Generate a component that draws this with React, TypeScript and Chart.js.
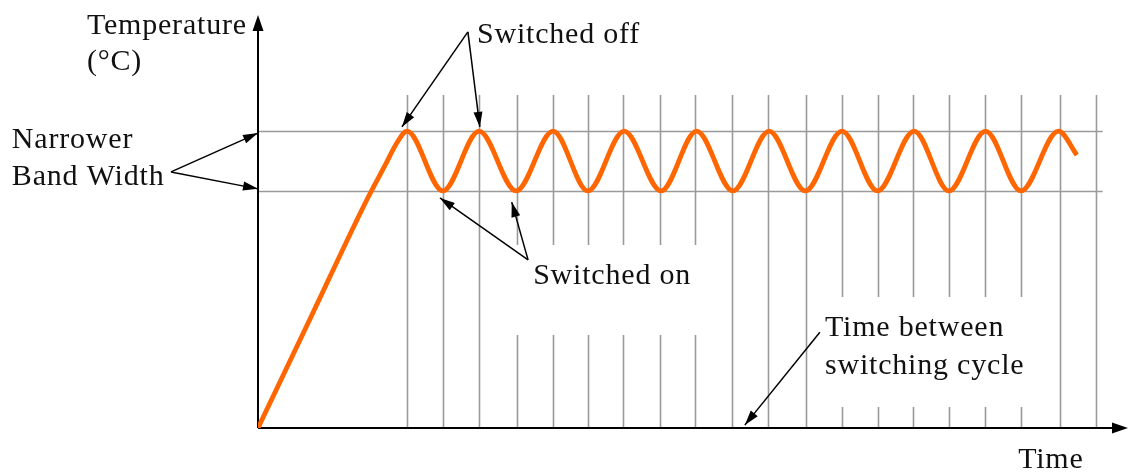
import React, { useEffect, useRef } from "react";
import { Chart, registerables } from "chart.js";

Chart.register(...registerables);

// Temperature curve (time in switching-grid units, temperature in arbitrary 0-100 units)
const curveTime = [
  0, 1.5, 3.0, 3.5, 3.85, 4.11, 5.1, 6.1, 7.12, 8.14, 9.1, 10.1, 11.12, 12.1, 13.1,
  14.1, 15.1, 16.11, 17.09, 18.1, 19.06, 20.07, 21.05, 22.08, 22.59,
];
const curveTemp = [
  0, 27.6, 55.2, 63.5, 69.3, 71.9, 57.4, 71.9, 57.4, 71.9, 57.4, 71.9, 57.4, 71.9, 57.4,
  71.9, 57.4, 71.9, 57.4, 71.9, 57.4, 71.9, 57.4, 71.9, 66.1,
];

// Band limits
const bandUpper = 71.9;
const bandLower = 57.4;
const bandEnd = 23.3;

// Switching-cycle marker lines
const cycleTimes = [
  4.11, 5.1, 6.1, 7.14, 8.14, 9.1, 10.07, 11.09, 12.06, 13.08, 14.07, 15.12, 16.11, 17.1,
  18.07, 19.06, 20.06, 21.05, 22.12, 23.12,
];
const cycleTop = 80.6;
// gap (from, to) per line, null = full line
const cycleGaps: ([number, number] | null)[] = [
  null, null, null, [22.5, 44.3], [22.5, 44.3], [22.5, 44.3], [22.5, 44.3], [22.5, 44.3],
  [22.5, 44.3], null, null, null, [5.1, 31.7], [5.1, 31.7], [5.1, 31.7], [5.1, 31.7],
  [5.1, 31.7], [5.1, 31.7], null, null,
];

// Text labels
const labelTexts = [
  "Temperature", "(°C)", "Switched off", "Narrower", "Band Width", "Switched on",
  "Time between", "switching cycle", "Time",
];
const labelTimes = [-4.72, -4.72, 6.04, -6.79, -6.79, 7.59, 15.64, 15.64, 20.97];
const labelTemps = [95.4, 86.7, 93.2, 67.8, 58.8, 34.9, 22.3, 13.1, -9.7];

// Annotation arrows: from -> to
const arrowFromT = [5.79, 5.79, -2.4, -2.4, 7.45, 7.45, 15.5];
const arrowFromV = [95.9, 95.9, 62.0, 62.0, 40.7, 40.7, 23.2];
const arrowToT = [3.97, 6.12, 0, 0, 5.02, 7.0, 13.43];
const arrowToV = [72.9, 72.9, 71.4, 57.9, 55.7, 54.7, 0.7];

const X_MAX = 24;
const Y_MAX = 100;

function arrowHead(ctx: CanvasRenderingContext2D, x1: number, y1: number, x2: number, y2: number, len: number, half: number) {
  const a = Math.atan2(y2 - y1, x2 - x1);
  const bx = x2 - len * Math.cos(a);
  const by = y2 - len * Math.sin(a);
  ctx.beginPath();
  ctx.moveTo(x2, y2);
  ctx.lineTo(bx + half * Math.sin(a), by - half * Math.cos(a));
  ctx.lineTo(bx - half * Math.sin(a), by + half * Math.cos(a));
  ctx.closePath();
  ctx.fill();
}

const decorPlugin = {
  id: "decor",
  beforeDatasetsDraw(chart: any) {
    const { ctx, scales } = chart;
    const xs = scales.x;
    const ys = scales.y;
    ctx.save();
    ctx.strokeStyle = "#9a9a9a";
    ctx.lineWidth = 1.6;
    [bandUpper, bandLower].forEach((v) => {
      const py = Math.round(ys.getPixelForValue(v)) + 0.5;
      ctx.beginPath();
      ctx.moveTo(xs.getPixelForValue(0), py);
      ctx.lineTo(xs.getPixelForValue(bandEnd), py);
      ctx.stroke();
    });
    cycleTimes.forEach((t, i) => {
      const px = Math.round(xs.getPixelForValue(t)) + 0.5;
      const gap = cycleGaps[i];
      ctx.beginPath();
      if (gap) {
        ctx.moveTo(px, ys.getPixelForValue(0));
        ctx.lineTo(px, ys.getPixelForValue(gap[0]));
        ctx.moveTo(px, ys.getPixelForValue(gap[1]));
        ctx.lineTo(px, ys.getPixelForValue(cycleTop));
      } else {
        ctx.moveTo(px, ys.getPixelForValue(0));
        ctx.lineTo(px, ys.getPixelForValue(cycleTop));
      }
      ctx.stroke();
    });
    ctx.strokeStyle = "#000";
    ctx.fillStyle = "#000";
    ctx.lineWidth = 2;
    const ox = xs.getPixelForValue(0);
    const oy = ys.getPixelForValue(0);
    const yTop = ys.getPixelForValue(Y_MAX);
    const xRight = xs.getPixelForValue(X_MAX);
    ctx.beginPath();
    ctx.moveTo(ox, oy);
    ctx.lineTo(ox, yTop + 10);
    ctx.moveTo(ox, oy);
    ctx.lineTo(xRight - 10, oy);
    ctx.stroke();
    arrowHead(ctx, ox, oy, ox, yTop, 16, 5.5);
    arrowHead(ctx, ox, oy, xRight, oy, 16, 5.5);
    ctx.restore();
  },
  afterDatasetsDraw(chart: any) {
    const { ctx, scales } = chart;
    const xs = scales.x;
    const ys = scales.y;
    ctx.save();
    ctx.fillStyle = "#000";
    ctx.strokeStyle = "#000";
    ctx.lineWidth = 1.5;
    arrowFromT.forEach((_, i) => {
      const x1 = xs.getPixelForValue(arrowFromT[i]);
      const y1 = ys.getPixelForValue(arrowFromV[i]);
      const x2 = xs.getPixelForValue(arrowToT[i]);
      const y2 = ys.getPixelForValue(arrowToV[i]);
      ctx.beginPath();
      ctx.moveTo(x1, y1);
      ctx.lineTo(x2, y2);
      ctx.stroke();
      arrowHead(ctx, x1, y1, x2, y2, 15, 4.5);
    });
    ctx.font = "30px 'Liberation Serif', 'Times New Roman', serif";
    try {
      (ctx as any).letterSpacing = "0.8px";
    } catch (e) {}
    ctx.fillStyle = "#111";
    ctx.textBaseline = "alphabetic";
    ctx.textAlign = "left";
    labelTexts.forEach((t, i) => {
      ctx.fillText(t, xs.getPixelForValue(labelTimes[i]), ys.getPixelForValue(labelTemps[i]));
    });
    ctx.restore();
  },
};

export default function App() {
  const ref = useRef<HTMLCanvasElement>(null);
  useEffect(() => {
    if (!ref.current) return;
    const chart = new Chart(ref.current, {
      type: "line",
      data: {
        datasets: [
          {
            data: curveTime.map((t, i) => ({ x: t, y: curveTemp[i] })),
            borderColor: "#ff6600",
            borderWidth: 4.8,
            pointRadius: 0,
            cubicInterpolationMode: "monotone",
            fill: false,
          },
        ],
      },
      options: {
        responsive: false,
        animation: false,
        devicePixelRatio: 1,
        layout: { padding: { left: 258, top: 15, right: 3, bottom: 46 } },
        plugins: { legend: { display: false }, tooltip: { enabled: false } },
        scales: {
          x: { type: "linear", min: 0, max: X_MAX, display: false },
          y: { type: "linear", min: 0, max: Y_MAX, display: false },
        },
      },
      plugins: [decorPlugin],
    });
    return () => chart.destroy();
  }, []);
  return (
    <div style={{ position: "absolute", left: 0, top: 0, width: 1131, height: 474, background: "#fff" }}>
      <canvas ref={ref} width={1131} height={474} style={{ display: "block" }} />
    </div>
  );
}
